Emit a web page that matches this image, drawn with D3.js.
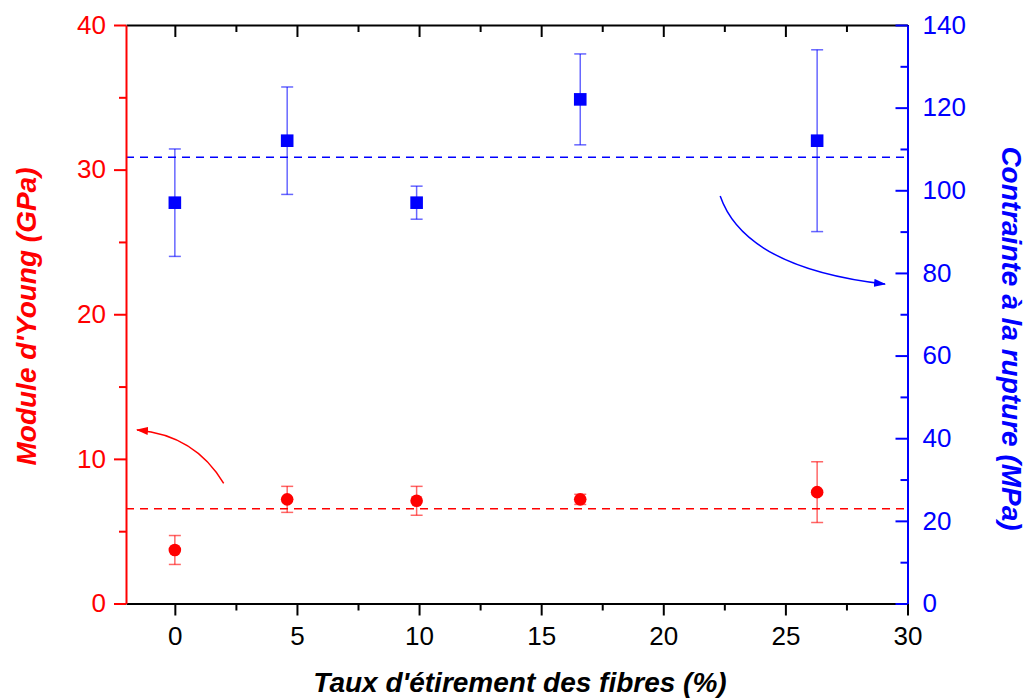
<!DOCTYPE html>
<html><head><meta charset="utf-8">
<script src="https://cdn.jsdelivr.net/npm/d3@7"></script>
<style>body{margin:0;background:#fff}svg{display:block}</style>
</head><body>
<svg id="chart" width="1026" height="700"></svg>
<script>
// ---- data ----
const xTicks = [0, 5, 10, 15, 20, 25, 30];
const xMinorTicks = [2.5, 7.5, 12.5, 17.5, 22.5, 27.5];
const leftTicks = [0, 10, 20, 30, 40];
const leftMinorTicks = [5, 15, 25, 35];
const rightTicks = [0, 20, 40, 60, 80, 100, 120, 140];
const rightMinorTicks = [10, 30, 50, 70, 90, 110, 130];

const strain = [0, 4.6, 9.9, 16.6, 26.3];
const modulus = [3.7, 7.2, 7.1, 7.2, 7.7];
const modulusErr = [1.0, 0.9, 1.0, 0.35, 2.1];
const stress = [97, 112, 97, 122, 112];
const stressErr = [13, 13, 4, 11, 22];
const modulusMean = 6.56;
const stressMean = 108;

// annotation arrows: [start, control, end] in data coordinates
const redArrow = [[2.0, 8.3], [0.83, 11.65], [-1.55, 12.0]];
const blueArrow = [[22.33, 98.6], [23.35, 81.2], [29.08, 77.3]];

const xTitle = "Taux d'étirement des fibres (%)";
const leftTitle = "Module d'Young (GPa)";
const rightTitle = "Contrainte à la rupture (MPa)";

// ---- layout ----
const L = 126, R = 907.5, T = 25, B = 603.5;
const RED = "#ff0000", BLUE = "#0000ff";
const FONT = "'Liberation Sans', Arial, sans-serif";

const svg = d3.select("#chart");
const x = d3.scaleLinear().domain([-2, 30]).range([L, R]);
const yL = d3.scaleLinear().domain([0, 40]).range([B, T]);
const yR = d3.scaleLinear().domain([0, 140]).range([B, T]);

const defs = svg.append("defs");
function arrowMarker(id, color) {
  defs.append("marker").attr("id", id)
    .attr("viewBox", "0 0 12 8").attr("refX", 11).attr("refY", 4)
    .attr("markerWidth", 12).attr("markerHeight", 8)
    .attr("markerUnits", "userSpaceOnUse").attr("orient", "auto")
    .append("path").attr("d", "M0,0 L12,4 L0,8 Z").attr("fill", color);
}
arrowMarker("arrRed", RED);
arrowMarker("arrBlue", BLUE);

// mean dashed lines
svg.append("line").attr("x1", L).attr("x2", R).attr("y1", yL(modulusMean)).attr("y2", yL(modulusMean))
  .attr("stroke", RED).attr("stroke-width", 1.5).attr("stroke-dasharray", "8,6");
svg.append("line").attr("x1", L).attr("x2", R).attr("y1", yR(stressMean)).attr("y2", yR(stressMean))
  .attr("stroke", BLUE).attr("stroke-width", 1.5).attr("stroke-dasharray", "8,6");

// error bars
function errorBars(vals, errs, y, color) {
  const g = svg.append("g").attr("stroke", color).attr("stroke-width", 1.5).attr("stroke-opacity", 0.6);
  strain.forEach((s, i) => {
    const cx = x(s), y1 = y(vals[i] + errs[i]), y2 = y(vals[i] - errs[i]);
    g.append("line").attr("x1", cx).attr("x2", cx).attr("y1", y1).attr("y2", y2);
    g.append("line").attr("x1", cx - 6).attr("x2", cx + 6).attr("y1", y1).attr("y2", y1);
    g.append("line").attr("x1", cx - 6).attr("x2", cx + 6).attr("y1", y2).attr("y2", y2);
  });
}
errorBars(modulus, modulusErr, yL, RED);
errorBars(stress, stressErr, yR, BLUE);

// markers
svg.append("g").selectAll("circle").data(strain).join("circle")
  .attr("cx", d => x(d)).attr("cy", (d, i) => yL(modulus[i])).attr("r", 6.3).attr("fill", RED);
svg.append("g").selectAll("rect").data(strain).join("rect")
  .attr("x", d => x(d) - 6.3).attr("y", (d, i) => yR(stress[i]) - 6.3)
  .attr("width", 12.6).attr("height", 12.6).attr("fill", BLUE);

// arrows
function curve(pts, y) {
  const p = d3.path();
  p.moveTo(x(pts[0][0]), y(pts[0][1]));
  p.quadraticCurveTo(x(pts[1][0]), y(pts[1][1]), x(pts[2][0]), y(pts[2][1]));
  return p.toString();
}
svg.append("path").attr("d", curve(redArrow, yL)).attr("fill", "none").attr("stroke", RED)
  .attr("stroke-width", 1.5).attr("marker-end", "url(#arrRed)");
svg.append("path").attr("d", curve(blueArrow, yR)).attr("fill", "none").attr("stroke", BLUE)
  .attr("stroke-width", 1.5).attr("marker-end", "url(#arrBlue)");

// axes
function styleAxis(g, color) {
  g.selectAll("path.domain").attr("stroke", color).attr("stroke-width", 2);
  g.selectAll(".tick line").attr("stroke", color).attr("stroke-width", 2);
  g.selectAll(".tick text").attr("fill", color).style("font-family", FONT).style("font-size", "26px");
}
// bottom
svg.append("g").attr("transform", `translate(0,${B})`)
  .call(d3.axisBottom(x).tickValues(xMinorTicks).tickSize(7).tickFormat(""))
  .call(g => { g.select(".domain").remove(); styleAxis(g, "#000"); });
svg.append("g").attr("transform", `translate(0,${B})`)
  .call(d3.axisBottom(x).tickValues(xTicks).tickSize(12).tickSizeOuter(0).tickPadding(11).tickFormat(d3.format("d")))
  .call(g => styleAxis(g, "#000"));
// top
svg.append("g").attr("transform", `translate(0,${T})`)
  .call(d3.axisTop(x).tickValues(xMinorTicks).tickSize(-7).tickFormat(""))
  .call(g => { g.select(".domain").remove(); styleAxis(g, "#000"); });
svg.append("g").attr("transform", `translate(0,${T})`)
  .call(d3.axisTop(x).tickValues(xTicks).tickSize(-12).tickSizeOuter(0).tickFormat(""))
  .call(g => styleAxis(g, "#000"));
// left
svg.append("g").attr("transform", `translate(${L},0)`)
  .call(d3.axisLeft(yL).tickValues(leftMinorTicks).tickSize(7).tickFormat(""))
  .call(g => { g.select(".domain").remove(); styleAxis(g, RED); });
svg.append("g").attr("transform", `translate(${L},0)`)
  .call(d3.axisLeft(yL).tickValues(leftTicks).tickSize(12).tickSizeOuter(0).tickPadding(8).tickFormat(d3.format("d")))
  .call(g => styleAxis(g, RED));
// right
svg.append("g").attr("transform", `translate(${R},0)`)
  .call(d3.axisRight(yR).tickValues(rightMinorTicks).tickSize(-7).tickFormat(""))
  .call(g => { g.select(".domain").remove(); styleAxis(g, BLUE); });
svg.append("g").attr("transform", `translate(${R},0)`)
  .call(d3.axisRight(yR).tickValues(rightTicks).tickSize(-12).tickSizeOuter(0).tickPadding(15).tickFormat(d3.format("d")))
  .call(g => styleAxis(g, BLUE));

// titles
const titleStyle = s => s.style("font-family", FONT).style("font-size", "28px")
  .style("font-weight", "bold").style("font-style", "italic").attr("text-anchor", "middle");
svg.append("text").attr("x", 520).attr("y", 692).text(xTitle).call(titleStyle).attr("fill", "#000");
svg.append("text").attr("transform", `translate(36,316.5) rotate(-90)`).text(leftTitle)
  .call(titleStyle).attr("fill", RED);
svg.append("text").attr("transform", `translate(1002,338.5) rotate(90)`).text(rightTitle)
  .call(titleStyle).attr("fill", BLUE);
</script>
</body></html>
